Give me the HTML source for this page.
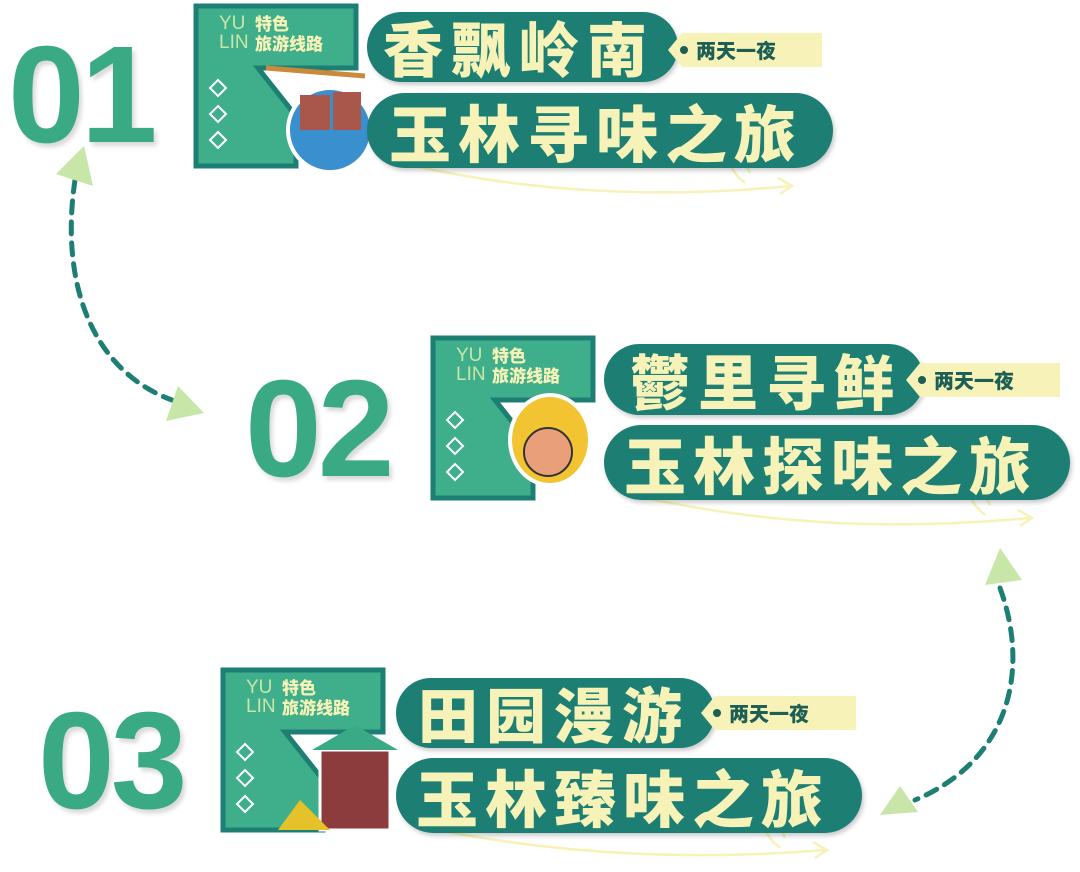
<!DOCTYPE html>
<html><head><meta charset="utf-8"><style>
body{margin:0;width:1080px;height:872px;background:#fff;position:relative;overflow:hidden;font-family:"Liberation Sans","Noto Sans CJK SC",sans-serif}
.a{position:absolute}
.num{position:absolute;font-family:"Liberation Sans",sans-serif;font-weight:900;color:#3aaa84;font-size:138px;letter-spacing:-4px;line-height:1;text-shadow:3px 4px 4px rgba(0,0,0,.15)}
.pill{position:absolute;background:#1d7f74;border-radius:40px;color:#f7f3b8;font-family:"Noto Sans CJK SC",sans-serif;font-weight:900;box-shadow:2px 3px 4px rgba(0,0,0,.2);white-space:nowrap}
.p1{font-size:60px;letter-spacing:8px}
.p2{font-size:62px;letter-spacing:7px}
.tag{position:absolute;background:#f7f3b8;color:#1d5e55;font-family:"Noto Sans CJK SC",sans-serif;font-weight:900;font-size:20px;line-height:34px;padding-left:28px;clip-path:polygon(14px 0,100% 0,100% 100%,14px 100%,0 50%)}
.tag::before{content:"";position:absolute;left:12px;top:13px;width:8px;height:8px;border-radius:50%;background:#1d5e55}
.yl{position:absolute;color:#c8e6a8;font-size:19px;line-height:19px;font-weight:400}
.ts{position:absolute;color:#f7f3b8;font-size:17px;line-height:20px;font-weight:900;font-family:"Noto Sans CJK SC",sans-serif}
</style></head><body>
<svg class="a" style="left:0;top:0" width="1080" height="872">
<defs><g id="L">
<path d="M0 0H160V62H62L100 110V160H0Z" fill="#3fae8a" stroke="#1d7f74" stroke-width="5"/>
<g fill="none" stroke="#fff" stroke-width="2"><path d="M22 74l8 8-8 8-8-8z"/><path d="M22 100l8 8-8 8-8-8z"/><path d="M22 126l8 8-8 8-8-8z"/></g>
</g></defs>
<use href="#L" x="196" y="6"/>
<use href="#L" x="433" y="338"/>
<use href="#L" x="223" y="670"/>
<g fill="none" stroke="#1d7f74" stroke-width="5" stroke-dasharray="12 9" stroke-linecap="round">
<path d="M75 180C60 280 90 370 172 400"/>
<path d="M1000 588C1030 670 1010 760 915 800"/>
</g>
<g fill="#c8e6a8">
<path d="M84 146L56 174L93 186Z"/><path d="M204 413L166 421L178 386Z"/>
<path d="M1000 548L985 585L1022 580Z"/><path d="M880 815L918 812L900 786Z"/>
</g>
<g fill="none" stroke="#f7f3b8" stroke-width="2.5">
<path d="M410 165C520 190 650 200 790 186M778 178L792 186L780 194M745 183c-30-25-5-35 5-10"/>
<path d="M645 498C760 522 880 532 1030 518M1018 510L1032 518L1020 526M985 515c-30-25-5-35 5-10"/>
<path d="M438 830C550 852 680 862 825 850M813 842L827 850L815 858M780 848c-30-25-5-35 5-10"/>
</g>
<circle cx="330" cy="130" r="42" fill="#3a8fcf" stroke="#fff" stroke-width="4"/>
<rect x="300" y="95" width="30" height="35" fill="#a9574a"/><rect x="333" y="92" width="28" height="38" fill="#a9574a"/>
<path d="M266 68L365 76" stroke="#c98a3a" stroke-width="5"/>
<ellipse cx="550" cy="440" rx="40" ry="45" fill="#f2c431" stroke="#fff" stroke-width="4"/>
<circle cx="548" cy="452" r="24" fill="#e9a07a" stroke="#333" stroke-width="2"/>
<rect x="320" y="750" width="70" height="80" fill="#8c3c3c" stroke="#fff" stroke-width="3"/>
<path d="M312 750L355 725L398 750Z" fill="#3aaa84"/>
<path d="M278 830L300 800L330 830Z" fill="#e5c12a"/>
</svg>
<div class="num" style="left:8px;top:26px">01</div>
<div class="num" style="left:245px;top:360px">02</div>
<div class="num" style="left:38px;top:692px">03</div>

<div class="yl" style="left:219px;top:14px">YU<br>LIN</div><div class="ts" style="left:255px;top:13px">特色<br>旅游线路</div>
<div class="yl" style="left:456px;top:346px">YU<br>LIN</div><div class="ts" style="left:492px;top:345px">特色<br>旅游线路</div>
<div class="yl" style="left:246px;top:678px">YU<br>LIN</div><div class="ts" style="left:282px;top:677px">特色<br>旅游线路</div>

<div class="pill p1" style="left:367px;top:12px;width:295px;height:70px;line-height:70px;padding-left:16px">香飘岭南</div>
<div class="tag" style="left:668px;top:33px;width:126px">两天一夜</div>
<div class="pill p2" style="left:367px;top:93px;width:444px;height:75px;line-height:75px;padding-left:22px">玉林寻味之旅</div>

<div class="pill p1" style="left:604px;top:344px;width:294px;height:71px;line-height:71px;padding-left:26px">鬱里寻鲜</div>
<div class="tag" style="left:906px;top:363px;width:126px">两天一夜</div>
<div class="pill p2" style="left:604px;top:425px;width:446px;height:75px;line-height:75px;padding-left:20px">玉林探味之旅</div>

<div class="pill p1" style="left:396px;top:678px;width:297px;height:70px;line-height:70px;padding-left:22px">田园漫游</div>
<div class="tag" style="left:701px;top:696px;width:127px">两天一夜</div>
<div class="pill p2" style="left:396px;top:758px;width:446px;height:75px;line-height:75px;padding-left:20px">玉林臻味之旅</div>
</body></html>
